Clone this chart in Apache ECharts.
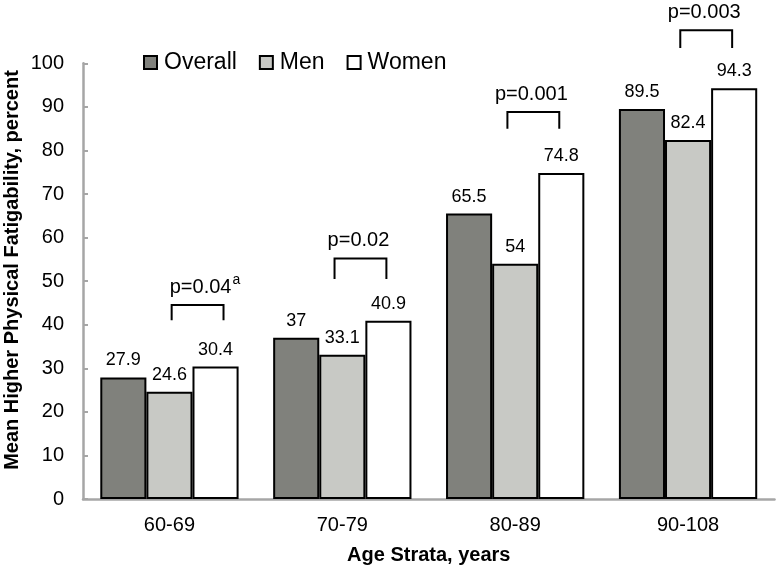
<!DOCTYPE html>
<html>
<head>
<meta charset="utf-8">
<script src="https://cdn.jsdelivr.net/npm/echarts@6/dist/echarts.min.js"></script>
<style>html,body{margin:0;padding:0;background:#fff}#c{width:776px;height:570px}</style>
</head>
<body>
<div id="c"></div>
<script>
const categories = ['60-69', '70-79', '80-89', '90-108'];
const seriesNames = ['Overall', 'Men', 'Women'];
const overall = [27.9, 37, 65.5, 89.5];
const men = [24.6, 33.1, 54, 82.4];
const women = [30.4, 40.9, 74.8, 94.3];
const pLabels = ['p=0.04', 'p=0.02', 'p=0.001', 'p=0.003'];
const pNotes = ['a', '', '', ''];
const bracketTop = [44.5, 55.2, 88.8, 107.6];
const bracketBottom = [41.0, 50.5, 85.0, 103.5];
const yTicks = { min: 0, max: 100, interval: 10 };
const xTitle = 'Age Strata, years';
const yTitle = 'Mean Higher Physical Fatigability, percent';

const FONT = '"Liberation Sans", Arial, Helvetica, sans-serif';
const colors = ['#80817c', '#c8c9c5', '#ffffff'];
const axisGray = '#a6a6a6';

const measureCtx = document.createElement('canvas').getContext('2d');
function textWidth(t, font) { measureCtx.font = font; return measureCtx.measureText(t).width; }

const chart = echarts.init(document.getElementById('c'), null, { renderer: 'canvas' });

function barSeries(name, data, color) {
  return {
    name: name,
    type: 'bar',
    data: data,
    barGap: '0%',
    barCategoryGap: '20%',
    itemStyle: { color: color, borderColor: '#000', borderWidth: 2 },
    label: {
      show: true, position: 'top', distance: 8,
      color: '#000', fontFamily: FONT, fontSize: 18
    },
    emphasis: { disabled: true },
    animation: false
  };
}

const bracketData = categories.map((c, i) => [i, bracketTop[i], bracketBottom[i]]);

function renderBracket(params, api) {
  const i = api.value(0);
  const top = api.coord([i, api.value(1)]);
  const bot = api.coord([i, api.value(2)]);
  const cw = api.size([1, 0])[0];
  const shift = pNotes[i] ? 10 : 0;
  const x1 = top[0] - 0.045 * cw + shift;
  const x2 = top[0] + 0.255 * cw + shift;
  const mid = (x1 + x2) / 2;
  const mainFont = '20px ' + FONT;
  const tx = mid - 2 + (pNotes[i] ? 5 : 0);
  const ty = top[1] - 18;
  const children = [
    {
      type: 'polyline',
      shape: { points: [[x1, bot[1]], [x1, top[1]], [x2, top[1]], [x2, bot[1]]] },
      style: { stroke: '#000', fill: null, lineWidth: 2 }
    },
    {
      type: 'text', x: tx, y: ty,
      style: { text: pLabels[i], font: mainFont, fill: '#000', align: 'center', verticalAlign: 'middle', textAlign: 'center', textVerticalAlign: 'middle' }
    }
  ];
  if (pNotes[i]) {
    const w = textWidth(pLabels[i], mainFont);
    children.push({
      type: 'text', x: tx + w / 2 + 1, y: ty - 7,
      style: { text: pNotes[i], font: '14px ' + FONT, fill: '#000', align: 'left', verticalAlign: 'middle', textAlign: 'left', textVerticalAlign: 'middle' }
    });
  }
  return { type: 'group', children: children };
}

chart.setOption({
  animation: false,
  backgroundColor: '#fff',
  grid: { left: 83, right: 1.5, top: 63.3, bottom: 67.3, containLabel: false },
  legend: {
    data: seriesNames,
    left: 143, top: 51, padding: 0,
    icon: 'rect', itemWidth: 13, itemHeight: 13, itemGap: 22,
    textStyle: { fontFamily: FONT, fontSize: 23, color: '#000', padding: [0, 0, 0, 2] },
    selectedMode: false
  },
  xAxis: {
    type: 'category',
    data: categories,
    axisLine: { lineStyle: { color: axisGray, width: 2.5 } },
    axisTick: { show: false },
    axisLabel: { color: '#000', fontFamily: FONT, fontSize: 20, margin: 16 },
    name: xTitle,
    nameLocation: 'middle',
    nameGap: 46,
    nameTextStyle: { color: '#000', fontFamily: FONT, fontSize: 20, fontWeight: 'bold' }
  },
  yAxis: {
    type: 'value',
    min: yTicks.min, max: yTicks.max, interval: yTicks.interval,
    axisLine: { show: true, lineStyle: { color: axisGray, width: 2.5 } },
    axisTick: { show: true, inside: true, length: 5, lineStyle: { color: axisGray, width: 2 } },
    splitLine: { show: false },
    axisLabel: { color: '#000', fontFamily: FONT, fontSize: 20, margin: 19 }
  },
  graphic: [{
    type: 'text',
    x: 12, y: 270,
    rotation: Math.PI / 2,
    style: {
      text: yTitle, font: 'bold 20px ' + FONT, fill: '#000',
      align: 'center', verticalAlign: 'middle', textAlign: 'center', textVerticalAlign: 'middle'
    }
  }],
  series: [
    barSeries(seriesNames[0], overall, colors[0]),
    barSeries(seriesNames[1], men, colors[1]),
    barSeries(seriesNames[2], women, colors[2]),
    {
      type: 'custom',
      renderItem: renderBracket,
      data: bracketData,
      clip: false,
      silent: true,
      z: 5,
      animation: false
    }
  ]
});
</script>
</body>
</html>
